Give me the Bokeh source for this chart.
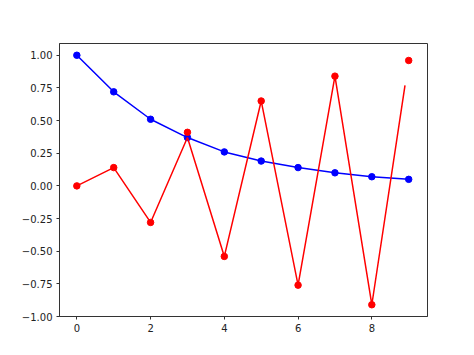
from bokeh.plotting import figure
from bokeh.models import FixedTicker, Range1d
from bokeh.embed import file_html
from bokeh.resources import INLINE

# Data
x_pts = [0, 1, 2, 3, 4, 5, 6, 7, 8, 9]
blue_y = [1.00, 0.72, 0.51, 0.37, 0.26, 0.19, 0.14, 0.10, 0.07, 0.05]
red_y = [0.00, 0.14, -0.28, 0.41, -0.54, 0.65, -0.76, 0.84, -0.91, 0.96]
red_line_x = [0, 1, 2, 3, 4, 5, 6, 7, 8, 8.9]
red_line_y = [0.00, 0.14, -0.28, 0.37, -0.54, 0.65, -0.76, 0.84, -0.91, 0.77]
x_ticks = [0, 2, 4, 6, 8]
y_ticks = [-1.0, -0.75, -0.5, -0.25, 0.0, 0.25, 0.5, 0.75, 1.0]

p = figure(width=474, height=355, output_backend="svg", toolbar_location=None,
           x_range=Range1d(-0.47, 9.51), y_range=Range1d(-1.0, 1.09),
           min_border_left=59, min_border_right=47, min_border_top=43, min_border_bottom=39)
p.background_fill_color = "white"
p.border_fill_color = "white"
p.outline_line_color = "#333333"
p.outline_line_width = 1
p.grid.visible = False

blue = "#0000ff"
red = "#ff0000"
p.line(x_pts, blue_y, line_color=blue, line_width=1.5)
p.scatter(x_pts, blue_y, size=6.5, fill_color=blue, line_color=blue)
p.line(red_line_x, red_line_y, line_color=red, line_width=1.5)
p.scatter(x_pts, red_y, size=6.5, fill_color=red, line_color=red)

for ax in (p.xaxis, p.yaxis):
    ax.major_tick_in = 0
    ax.major_tick_out = 3
    ax.minor_tick_line_color = None
    ax.axis_line_color = "#333333"
    ax.major_tick_line_color = "#333333"
    ax.major_label_text_font = "DejaVu Sans"
    ax.major_label_text_font_size = "10px"
    ax.major_label_text_color = "#222222"
    ax.major_label_standoff = 4

p.xaxis.ticker = FixedTicker(ticks=x_ticks)
p.yaxis.ticker = FixedTicker(ticks=y_ticks)
p.xaxis.major_label_overrides = {t: str(t) for t in x_ticks}
p.yaxis.major_label_overrides = {t: ("%.2f" % t).replace("-", "\u2212") for t in y_ticks}

open("out.html", "w").write(file_html(p, INLINE))
